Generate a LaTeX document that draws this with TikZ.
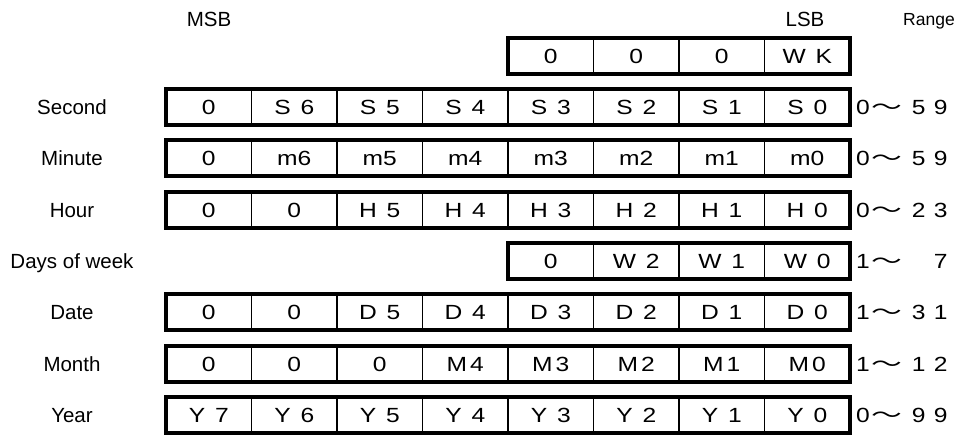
\documentclass[tikz,border=0pt]{standalone}
\usepackage{graphicx}
\usepackage{fontspec}
\setmainfont{Liberation Sans}
\newfontfamily\cjk{Noto Sans CJK JP}
\newcommand\cx[1]{\scalebox{1.2}[1]{#1}}
\newcommand\bitgap{\hspace{0.4em}}
\newcommand\smallgap{\hspace{0.12em}}
\newcommand\rng[3]{\cx{#1}\hspace{2.3pt}\scalebox{1.5}[1]{\cjk ～}\hspace{9.2pt}\makebox[13.7pt][l]{\cx{#2}}\hspace{8.3pt}\cx{#3}}
\newcommand\bitrow[3]{%
  \foreach \txt [count=\i from #2] in {#3} {
    \node[cell] (r#1c\i) at ({166+85.5*\i}, {37.7+51.33*#1}) {\cx{\txt}};
  }
  \draw[frame] (r#1c#2.north west) rectangle (r#1c7.south east);
}
\begin{document}
\begin{tikzpicture}[x=1pt,y=-1pt,
  txt/.style={font=\fontsize{20.5}{24}\selectfont, inner sep=0pt, outer sep=0pt, text height=14.7pt, text depth=0pt},
  lbl/.style={txt},
  rngstyle/.style={txt, anchor=west},
  cell/.style={txt, draw, line width=1.3pt, minimum width=85.5pt, minimum height=36pt, anchor=north west},
  frame/.style={line width=4pt}]
\fill[white] (0,0) rectangle (956,435);
\useasboundingbox (0,0) rectangle (956,435);

% header labels
\node[lbl] (msb) at (209,19.5) {MSB};
\node[lbl] (lsb) at (805,19.5) {LSB};
\node[lbl, font=\fontsize{17.5}{21}\selectfont, text height=12.6pt] (range) at (929,19.5) {Range};

% register rows
\bitrow{0}{4}{0,0,0,W\bitgap K}
\bitrow{1}{0}{0,S\bitgap 6,S\bitgap 5,S\bitgap 4,S\bitgap 3,S\bitgap 2,S\bitgap 1,S\bitgap 0}
\bitrow{2}{0}{0,m6,m5,m4,m3,m2,m1,m0}
\bitrow{3}{0}{0,0,H\bitgap 5,H\bitgap 4,H\bitgap 3,H\bitgap 2,H\bitgap 1,H\bitgap 0}
\bitrow{4}{4}{0,W\bitgap 2,W\bitgap 1,W\bitgap 0}
\bitrow{5}{0}{0,0,D\bitgap 5,D\bitgap 4,D\bitgap 3,D\bitgap 2,D\bitgap 1,D\bitgap 0}
\bitrow{6}{0}{0,0,0,M\smallgap 4,M\smallgap 3,M\smallgap 2,M\smallgap 1,M\smallgap 0}
\bitrow{7}{0}{Y\bitgap 7,Y\bitgap 6,Y\bitgap 5,Y\bitgap 4,Y\bitgap 3,Y\bitgap 2,Y\bitgap 1,Y\bitgap 0}

% row names
\node[lbl] (lsec) at (72,107.03) {Second};
\node[lbl] (lmin) at (72,158.36) {Minute};
\node[lbl] (lhour) at (72,209.69) {Hour};
\node[lbl] (ldow) at (72,261.02) {Days of week};
\node[lbl] (ldate) at (72,312.35) {Date};
\node[lbl] (lmonth) at (72,363.68) {Month};
\node[lbl] (lyear) at (72,415.01) {Year};

% ranges
\node[rngstyle] (rsec) at (856,107.03) {\rng{0}{5}{9}};
\node[rngstyle] (rmin) at (856,158.36) {\rng{0}{5}{9}};
\node[rngstyle] (rhour) at (856,209.69) {\rng{0}{2}{3}};
\node[rngstyle] (rdow) at (856,261.02) {\rng{1}{}{7}};
\node[rngstyle] (rdate) at (856,312.35) {\rng{1}{3}{1}};
\node[rngstyle] (rmonth) at (856,363.68) {\rng{1}{1}{2}};
\node[rngstyle] (ryear) at (856,415.01) {\rng{0}{9}{9}};
\end{tikzpicture}
\end{document}
